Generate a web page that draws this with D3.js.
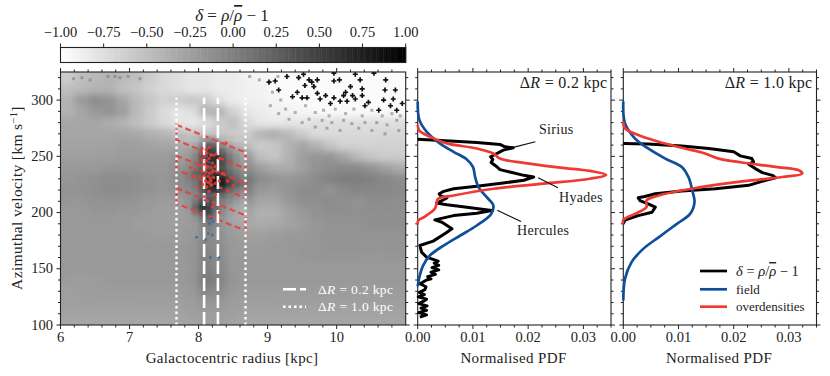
<!DOCTYPE html>
<html>
<head>
<meta charset="utf-8">
<script src="https://cdn.jsdelivr.net/npm/d3@7"></script>
<style>
html, body { margin: 0; padding: 0; background: #fff; }
text { font-family: "Liberation Serif", serif; fill: #222; }
.tick_label { font-size: 14.5px; }
.axis_label { font-size: 15px; letter-spacing: 0.35px; }
.note { font-size: 14px; letter-spacing: 0.3px; }
.panel_note { font-size: 16px; letter-spacing: 0.3px; }
</style>
</head>
<body>
<div id="chart"></div>
<script>
/*
 *  DATA BLOCK STARTS
 */
var cbar_ticks = [-1, -0.75, -0.5, -0.25, 0, 0.25, 0.5, 0.75, 1];

// density map on a coarse grid
var heat_r = [6.1, 6.3, 6.5, 6.7, 6.9, 7.1, 7.3, 7.5, 7.7, 7.9, 8.1, 8.3, 8.5, 8.7, 8.9, 9.1, 9.3, 9.5, 9.7, 9.9, 10.1, 10.3, 10.5, 10.7, 10.9];
var heat_v = [320, 310, 300, 290, 280, 270, 260, 250, 240, 230, 220, 210, 200, 190, 180, 170, 160, 150, 140, 130, 120, 110, 100];
var heat_delta = [
  [-.6,-.5,-.45,-.4,-.45,-.5,-.6,-.7,-.75,-.8,-.8,-.85,-.85,-.9,-.92,-.95,-.97,-.97,-.97,-.97,-.97,-.97,-.97,-.97,-.97],
  [-.5,-.45,-.4,-.4,-.5,-.55,-.65,-.7,-.75,-.8,-.8,-.85,-.85,-.88,-.9,-.95,-.97,-.97,-.97,-.97,-.97,-.97,-.97,-.97,-.97],
  [-.4,-.2,-.1,-.15,-.3,-.45,-.55,-.65,-.6,-.55,-.6,-.75,-.85,-.88,-.9,-.92,-.95,-.97,-.97,-.97,-.97,-.97,-.97,-.97,-.97],
  [-.4,-.3,-.2,-.15,-.25,-.45,-.6,-.72,-.8,-.75,-.4,-.4,-.65,-.8,-.85,-.88,-.9,-.92,-.95,-.95,-.95,-.95,-.95,-.95,-.95],
  [-.3,-.3,-.3,-.35,-.4,-.5,-.6,-.7,-.78,-.82,-.75,-.6,-.5,-.7,-.8,-.82,-.8,-.8,-.75,-.75,-.75,-.75,-.75,-.75,-.75],
  [-.3,-.3,-.3,-.3,-.3,-.32,-.38,-.42,-.5,-.55,-.55,-.55,-.6,-.6,-.4,-.35,-.45,-.6,-.72,-.72,-.7,-.7,-.7,-.68,-.68],
  [-.28,-.28,-.28,-.28,-.25,-.25,-.28,-.3,-.3,-.1,.15,0,-.25,-.5,-.6,-.55,-.4,-.3,-.4,-.55,-.65,-.65,-.65,-.65,-.65],
  [-.25,-.25,-.25,-.25,-.22,-.22,-.22,-.22,-.18,.1,.55,.45,.1,-.2,-.5,-.55,-.4,-.25,-.18,-.18,-.3,-.45,-.55,-.6,-.6],
  [-.2,-.2,-.2,-.18,-.18,-.18,-.2,-.2,-.12,.05,.35,.35,.1,-.1,-.25,-.35,-.35,-.25,-.15,-.1,-.08,-.08,-.15,-.25,-.35],
  [-.18,-.15,-.12,-.1,-.1,-.12,-.15,-.18,-.1,.1,.55,.7,.45,.1,-.08,-.15,-.18,-.15,-.08,-.02,.02,.02,0,-.05,-.1],
  [-.15,-.15,-.12,-.1,-.1,-.12,-.15,-.18,-.15,0,.45,.6,.3,0,-.2,-.22,-.15,-.1,-.1,-.15,-.08,-.05,-.05,-.06,-.08],
  [-.18,-.18,-.15,-.15,-.15,-.18,-.2,-.22,-.22,-.1,.15,.2,.05,-.15,-.3,-.3,-.2,-.12,-.12,-.1,-.12,-.15,-.1,-.1,-.12],
  [-.2,-.2,-.18,-.18,-.2,-.2,-.22,-.25,-.25,-.05,.45,.15,-.1,-.28,-.38,-.38,-.28,-.2,-.15,-.12,-.12,-.12,-.12,-.12,-.12],
  [-.2,-.2,-.2,-.2,-.2,-.22,-.22,-.22,-.25,-.2,0,-.1,-.25,-.32,-.35,-.32,-.28,-.22,-.18,-.15,-.15,-.15,-.12,-.12,-.12],
  [-.2,-.2,-.2,-.2,-.2,-.2,-.22,-.22,-.22,-.2,-.05,-.12,-.22,-.25,-.25,-.22,-.2,-.2,-.18,-.15,-.15,-.15,-.15,-.15,-.15],
  [-.2,-.2,-.2,-.2,-.2,-.2,-.2,-.2,-.2,-.18,-.05,-.1,-.2,-.22,-.22,-.2,-.2,-.18,-.18,-.16,-.16,-.16,-.16,-.16,-.16],
  [-.2,-.2,-.2,-.2,-.2,-.2,-.2,-.2,-.2,-.18,-.02,-.08,-.2,-.2,-.2,-.2,-.2,-.18,-.18,-.18,-.18,-.18,-.18,-.18,-.18],
  [-.2,-.2,-.2,-.2,-.2,-.2,-.2,-.2,-.2,-.18,0,-.05,-.18,-.2,-.2,-.2,-.2,-.2,-.2,-.2,-.2,-.2,-.2,-.2,-.2],
  [-.22,-.22,-.22,-.2,-.2,-.2,-.2,-.2,-.2,-.18,.05,-.02,-.18,-.2,-.2,-.2,-.2,-.2,-.2,-.2,-.2,-.2,-.2,-.2,-.2],
  [-.25,-.22,-.22,-.22,-.22,-.22,-.22,-.22,-.22,-.2,-.05,-.08,-.2,-.22,-.22,-.22,-.22,-.22,-.22,-.22,-.22,-.22,-.22,-.22,-.22],
  [-.25,-.25,-.25,-.25,-.25,-.25,-.25,-.25,-.25,-.22,-.18,-.18,-.22,-.25,-.25,-.25,-.25,-.25,-.25,-.25,-.25,-.25,-.25,-.25,-.25],
  [-.28,-.28,-.28,-.28,-.28,-.28,-.28,-.28,-.28,-.25,-.22,-.22,-.25,-.28,-.28,-.28,-.28,-.28,-.28,-.28,-.28,-.28,-.28,-.28,-.28],
  [-.3,-.3,-.3,-.3,-.3,-.3,-.3,-.3,-.3,-.28,-.25,-.25,-.28,-.3,-.3,-.3,-.3,-.3,-.3,-.3,-.3,-.3,-.3,-.3,-.3]
];

// finer grid laid over the coarse one around the overdensities
var core_r = [7.75, 7.85, 7.95, 8.05, 8.15, 8.25, 8.35, 8.45, 8.55, 8.65];
var core_v = [265, 260, 255, 250, 245, 240, 235, 230, 225, 220, 215, 210, 205, 200, 195, 190, 185];
var core_delta = [
  [-.45,-.5,-.45,-.3,-.15,-.25,-.45,-.5,-.55,-.55],
  [-.35,-.35,-.3,-.05,.25,.2,-.1,-.3,-.4,-.45],
  [-.3,-.25,-.15,.2,.5,.45,.15,-.1,-.25,-.35],
  [-.25,-.2,-.05,.35,.65,.65,.35,.05,-.15,-.3],
  [-.2,-.15,0,.3,.6,.65,.4,.1,-.1,-.25],
  [-.15,-.1,.05,.25,.45,.5,.35,.1,-.05,-.2],
  [-.1,0,.2,.3,.5,.6,.45,.2,.05,-.1],
  [-.1,0,.1,.35,.75,.9,.75,.4,.15,0],
  [-.1,-.05,.05,.35,.8,.9,.75,.45,.25,.1],
  [-.12,-.08,0,.25,.55,.6,.45,.2,.05,-.05],
  [-.18,-.12,-.05,.15,.25,.25,.15,0,-.1,-.2],
  [-.22,-.15,.05,.35,.4,.2,0,-.1,-.2,-.3],
  [-.25,-.15,.2,.55,.5,.15,-.05,-.2,-.3,-.35],
  [-.25,-.2,.05,.4,.45,.1,-.1,-.25,-.32,-.38],
  [-.25,-.22,-.15,.05,.2,.02,-.15,-.28,-.32,-.35],
  [-.25,-.22,-.2,-.05,.05,-.05,-.18,-.25,-.3,-.32],
  [-.22,-.2,-.2,-.08,0,-.08,-.18,-.22,-.25,-.28]
];

// isolated dark pixels in the sparse top right corner
var speck_r = [9.02,9.11,9.28,9.45,9.52,9.60,9.54,9.64,9.72,9.67,9.96,10.04,9.96,10.27,10.34,10.54,10.71,10.20,10.37,10.70,10.85,9.72,9.84,10.13,10.10,10.23,10.37,9.16,9.43,9.36,9.50,9.57,9.76,9.96,9.91,10.05,10.15,10.27,10.46,10.68,10.82,10.95,10.41,10.61,10.78,10.87];
var speck_v = [316,317,321,320,323,318,313,316,318,312,317,318,324,323,318,324,318,312,310,309,309,306,304,307,304,304,304,309,307,303,302,302,301,302,297,299,299,301,298,300,301,297,295,291,295,291];
// paler pixels below them and along the top edge
var soft_r = [9.07,9.19,9.04,9.26,9.40,9.55,9.69,9.81,9.89,9.98,10.13,10.25,10.37,10.51,10.66,10.80,10.92,9.60,9.79,9.93,10.10,10.22,10.41,10.58,10.73,10.87,10.05,10.32,10.51,10.70,10.90,9.86,9.69,9.50,9.31,9.16,6.31,6.69,6.79,6.86,6.98,7.15,6.43,6.19,8.74,8.88,9.03,9.15];
var soft_v = [307,300,295,292,289,295,289,291,286,292,288,292,286,291,286,288,286,283,282,280,282,279,280,280,278,282,273,275,273,270,273,275,276,280,283,288,320,321,321,320,321,319,318,319,321,318,316,321];

var red_r = [8.05,8.11,8.16,8.02,8.08,8.12,8.18,8.25,8.30,8.05,8.11,8.15,8.20,8.02,8.08,8.13,8.18,8.24,7.95,8.05,8.11,8.16,8.20,8.28,8.02,8.08,8.14,8.17,8.22,8.10,8.14,8.18,8.24,8.30,8.06,8.12,8.18,8.36,8.42,8.50,7.88,7.92,8.00,8.15,8.24,8.40,8.08,8.13,8.20,8.30];
var red_v = [257,256,258,252,250,253,251,252,248,247,246,248,244,242,243,241,240,241,238,237,236,235,236,236,232,233,232,230,231,228,227,228,226,228,225,223,224,235,228,224,240,232,222,219,216,262,214,210,205,200];
var blue_r = [8.12,8.15,8.10,8.20,8.15,8.16,8.28,8.09,8.14,8.21,8.18,8.16,8.21,8.14,8.20,7.97,8.10,8.17,8.30];
var blue_v = [250,245,236,232,226,217.6,220,211,206.7,200.7,194.8,190.3,191.8,181.4,180,178,176,160,160];

// stream boxes, one row per box: v at the inner and outer radius, upper and lower edge
var box_r = [7.68, 8.68];
var box_upper_v = [[278, 253.5], [250.5, 226], [221.7, 197.5]];
var box_lower_v = [[264.5, 239], [238, 213], [208, 184]];

var slit_narrow = [8.08, 8.28];
var slit_wide = [7.68, 8.68];
var slit_v = [100, 302];

var p2_black_v = [265.1,263.6,262.4,260.6,258.5,257.6,255.5,251.6,249.6,247.2,244.5,241.2,238.2,236.1,233.1,231.6,228.7,226.3,223.3,221.2,218.8,216.7,214.6,213.1,210.7,208.4,206.9,204.8,201.8,199.4,197.3,193.5,191.4,185.5,182.5,179.6,174.6,170.7,164.8,160.4,156.8,155,153,151,149,147,145,143,141,140,138,136.7,134,131.4,129,127,125,123,121,119,117,115,113,111,109,107];
var p2_black_pdf = [0,.00586,.0107,.0149,.0158,.0173,.0155,.014,.0132,.0136,.0133,.0142,.0149,.0167,.0192,.021,.0192,.0155,.0107,.0065,.0047,.0039,.0042,.0053,.0044,.0034,.0053,.0089,.0134,.0107,.0065,.0031,.0044,.0062,.0053,.0044,.0028,.0004,.0007,.0016,.0037,.003,.0038,.0026,.0038,.0024,.0032,.0018,.0024,.0016,.0009,.0004,.0015,.0013,.0003,.0012,.0001,.0016,.001,.0002,.0017,.0006,.0016,.0002,.0016,.0004];
var p2_blue_v = [298.8,282.4,272,261.5,254,247.2,240.6,231.6,222.7,213.7,206.3,198.8,188.5,179.6,170.7,161.8,153,142.6,134.3];
var p2_blue_pdf = [0,.0003,.0016,.004,.0065,.0089,.01,.0104,.011,.0125,.0137,.0133,.0107,.0077,.0047,.0022,.001,.0003,0];
var p2_red_v = [277.9,272.8,267.5,261.5,257,252.5,248,244.2,240,237,233.7,230.1,225.7,221.2,215.2,212.2,207.8,203.3,196.4,192.9,189.3];
var p2_red_pdf = [0,.0003,.0022,.0053,.0107,.0137,.0149,.0192,.0258,.0312,.0341,.0312,.0228,.0137,.0065,.0037,.0034,.0031,.0013,.0001,0];

var p3_black_v = [261.5,260.9,259.1,257,254,250.4,248,245,243,239.1,235.5,233.1,231,228.7,224.2,221.2,219.1,216.7,214.3,213.1,210.7,207.8,204.8,200.3,197.3,193.4,190];
var p3_black_pdf = [0,.0045,.0106,.0155,.02,.0212,.0233,.0236,.0227,.0239,.0252,.027,.0276,.0258,.0227,.0167,.0106,.0058,.0039,.0027,.003,.0045,.0058,.0052,.0027,.0003,0];
var p3_blue_v = [298.8,279.4,266,257,248,240.6,231.6,219.7,209.3,198.8,189.9,178,167.7,155.9,141,121.8];
var p3_blue_pdf = [0,.0003,.0021,.0045,.0076,.0106,.0118,.0125,.0129,.0121,.0097,.0064,.0036,.0015,.0003,0];
var p3_red_v = [280.9,274.9,268.9,263,257.6,252.5,248,244.5,240.6,237.6,234.7,231.6,226.6,221.2,215.2,210.7,204.8,198.8,193.4,190];
var p3_red_pdf = [0,.0003,.0027,.0064,.0106,.0148,.0173,.0215,.0276,.0318,.0324,.0288,.0197,.0124,.0064,.0042,.0042,.0021,0,0];
/*
 *  DATA BLOCK ENDS
 */

var c_black = "#000000", c_blue = "#0f4f9a", c_red = "#ee3a32";
var c_spine = "#222222";
var curve_width = 2.7;

var svg = d3.select("#chart").append("svg")
    .attr("width", 830)
    .attr("height", 376)
    .style("display", "block");

var defs = svg.append("defs");

var x_map = d3.scaleLinear().domain([6, 11]).range([60.5, 405.7]);
var y_v = d3.scaleLinear().domain([100, 325]).range([325, 72]);
var x_p2 = d3.scaleLinear().domain([0, 0.035]).range([417.7, 611]);
var x_p3 = d3.scaleLinear().domain([0, 0.035]).range([623.3, 816.5]);
var grey = d3.scaleLinear().domain([-1, 1]).range(["#ffffff", "#000000"]).clamp(true);

function draw_frame(x_scale, x_major, x_minor, fmt) {
    var g = svg.append("g");
    var top = y_v.range()[1], bottom = y_v.range()[0];
    var left = x_scale.range()[0], right = x_scale.range()[1];
    function tick_lines(values, size, fn) {
        values.forEach(function(d) { fn(d, size); });
    }
    function x_tick(d, size) {
        g.append("line").attr("x1", x_scale(d)).attr("x2", x_scale(d)).attr("y1", bottom).attr("y2", bottom + size).attr("stroke", c_spine);
        g.append("line").attr("x1", x_scale(d)).attr("x2", x_scale(d)).attr("y1", top).attr("y2", top - size).attr("stroke", c_spine);
    }
    function y_tick(d, size) {
        g.append("line").attr("y1", y_v(d)).attr("y2", y_v(d)).attr("x1", left).attr("x2", left - size).attr("stroke", c_spine);
        g.append("line").attr("y1", y_v(d)).attr("y2", y_v(d)).attr("x1", right).attr("x2", right + size).attr("stroke", c_spine);
    }
    tick_lines(x_major, 4, x_tick);
    tick_lines(x_minor, 2.5, x_tick);
    tick_lines(d3.range(100, 301, 50), 4, y_tick);
    tick_lines(d3.range(110, 325, 10).filter(function(d) { return d % 50 != 0; }), 2.5, y_tick);
    g.append("rect")
        .attr("x", left).attr("y", top)
        .attr("width", right - left).attr("height", bottom - top)
        .attr("fill", "none").attr("stroke", c_spine).attr("stroke-width", 1.1);
    g.selectAll(".x_lab").data(x_major).enter().append("text")
        .attr("class", "tick_label")
        .attr("x", function(d) { return x_scale(d); })
        .attr("y", 342)
        .attr("text-anchor", "middle")
        .text(fmt);
}

/* colour bar */
var cbar_x = d3.scaleLinear().domain([-1, 1]).range([60.5, 405.7]);
svg.append("g").selectAll("rect")
    .data(d3.range(-1, 1, 0.01))
    .enter().append("rect")
    .attr("x", function(d) { return cbar_x(d); })
    .attr("y", 47.5)
    .attr("width", cbar_x(0.01) - cbar_x(0) + 0.5)
    .attr("height", 15)
    .attr("fill", function(d) { return grey(d + 0.005); });
svg.append("rect")
    .attr("x", 60.5).attr("y", 47.5).attr("width", 345.2).attr("height", 15)
    .attr("fill", "none").attr("stroke", c_spine).attr("stroke-width", 1.1);
svg.append("g").selectAll("line")
    .data(cbar_ticks).enter().append("line")
    .attr("x1", function(d) { return cbar_x(d); })
    .attr("x2", function(d) { return cbar_x(d); })
    .attr("y1", 47.5).attr("y2", 43.5)
    .attr("stroke", c_spine);
svg.append("g").selectAll("text")
    .data(cbar_ticks).enter().append("text")
    .attr("class", "tick_label")
    .attr("x", function(d) { return cbar_x(d); })
    .attr("y", 37)
    .attr("text-anchor", "middle")
    .text(function(d) { return d3.format(".2f")(d); });

function delta_label(sel, size) {
    sel.style("font-size", size + "px");
    sel.append("tspan").style("font-style", "italic").text("\u03b4");
    sel.append("tspan").text(" = ");
    sel.append("tspan").style("font-style", "italic").text("\u03c1");
    sel.append("tspan").text("/");
    sel.append("tspan").style("font-style", "italic").style("text-decoration", "overline").text("\u03c1");
    sel.append("tspan").text(" \u2212 1");
}
svg.append("text").attr("x", 232).attr("y", 21).attr("text-anchor", "middle").call(delta_label, 17);

/* density map */
defs.append("clipPath").attr("id", "map_clip").append("rect")
    .attr("x", 60.5).attr("y", 72).attr("width", 345.2).attr("height", 253);
var blur = defs.append("filter").attr("id", "map_blur")
    .attr("filterUnits", "userSpaceOnUse")
    .attr("x", 0).attr("y", 0).attr("width", 830).attr("height", 376);
blur.append("feGaussianBlur").attr("stdDeviation", 3.5);
var blur_core = defs.append("filter").attr("id", "core_blur")
    .attr("filterUnits", "userSpaceOnUse")
    .attr("x", 0).attr("y", 0).attr("width", 830).attr("height", 376);
blur_core.append("feGaussianBlur").attr("stdDeviation", 1.8);

var map_g = svg.append("g").attr("clip-path", "url(#map_clip)");
var cells_g = map_g.append("g").attr("filter", "url(#map_blur)");
heat_delta.forEach(function(row, i) {
    row.forEach(function(d, j) {
        // edge cells run on past the frame so that the blur stays clean
        var x0 = x_map(heat_r[j] - 0.1) - (j == 0 ? 25 : 0);
        var x1 = x_map(heat_r[j] + 0.1) + (j == heat_r.length - 1 ? 25 : 0);
        var y0 = y_v(heat_v[i] + 5) - (i == 0 ? 25 : 0);
        var y1 = y_v(heat_v[i] - 5) + (i == heat_v.length - 1 ? 25 : 0);
        cells_g.append("rect")
            .attr("x", x0).attr("y", y0)
            .attr("width", x1 - x0 + 0.5).attr("height", y1 - y0 + 0.5)
            .attr("fill", grey(d));
    });
});
var core_g = map_g.append("g").attr("filter", "url(#core_blur)");
core_delta.forEach(function(row, i) {
    row.forEach(function(d, j) {
        core_g.append("rect")
            .attr("x", x_map(core_r[j] - 0.05)).attr("y", y_v(core_v[i] + 2.5))
            .attr("width", x_map(0.1) - x_map(0) + 0.5).attr("height", y_v(0) - y_v(5) + 0.5)
            .attr("fill", grey(d));
    });
});

map_g.append("g").selectAll("rect")
    .data(d3.range(soft_r.length)).enter().append("rect")
    .attr("x", function(i) { return x_map(soft_r[i]) - 1.5; })
    .attr("y", function(i) { return y_v(soft_v[i]) - 1.5; })
    .attr("width", 3).attr("height", 3)
    .attr("fill", "#777").attr("fill-opacity", 0.55);

map_g.append("g").selectAll("path")
    .data(d3.range(speck_r.length)).enter().append("path")
    .attr("d", d3.symbol().type(d3.symbolCross).size(14))
    .attr("transform", function(i) { return "translate(" + x_map(speck_r[i]) + "," + y_v(speck_v[i]) + ")"; })
    .attr("fill", "#111");

/* slits and stream boxes */
var box_g = map_g.append("g");
box_upper_v.forEach(function(upper, i) {
    var lower = box_lower_v[i];
    var corners = [[box_r[0], upper[0]], [box_r[1], upper[1]], [box_r[1], lower[1]], [box_r[0], lower[0]]];
    box_g.append("path")
        .attr("d", d3.line().x(function(d) { return x_map(d[0]); }).y(function(d) { return y_v(d[1]); })(corners) + "Z")
        .attr("fill", "none")
        .attr("stroke", "#ea3c3c")
        .attr("stroke-opacity", 0.85)
        .attr("stroke-width", 2.2)
        .attr("stroke-dasharray", "6,3.5");
});

map_g.append("g").selectAll("line")
    .data(slit_narrow).enter().append("line")
    .attr("x1", function(d) { return x_map(d); })
    .attr("x2", function(d) { return x_map(d); })
    .attr("y1", y_v(slit_v[0]))
    .attr("y2", y_v(slit_v[1]))
    .attr("stroke", "#fff").attr("stroke-width", 2.6)
    .attr("stroke-dasharray", "13,4");
map_g.append("g").selectAll("line")
    .data(slit_wide).enter().append("line")
    .attr("x1", function(d) { return x_map(d); })
    .attr("x2", function(d) { return x_map(d); })
    .attr("y1", y_v(slit_v[0]))
    .attr("y2", y_v(slit_v[1]))
    .attr("stroke", "#fff").attr("stroke-width", 2.4)
    .attr("stroke-dasharray", "2.5,3");

map_g.append("g").selectAll("circle")
    .data(d3.range(blue_r.length)).enter().append("circle")
    .attr("cx", function(i) { return x_map(blue_r[i]); })
    .attr("cy", function(i) { return y_v(blue_v[i]); })
    .attr("r", 1.3).attr("fill", "#2a66ae").attr("fill-opacity", 0.85);
map_g.append("g").selectAll("circle")
    .data(d3.range(red_r.length)).enter().append("circle")
    .attr("cx", function(i) { return x_map(red_r[i]); })
    .attr("cy", function(i) { return y_v(red_v[i]); })
    .attr("r", 1.7).attr("fill", "#ee3a32").attr("fill-opacity", 0.85);

/* frames */
draw_frame(x_map, [6, 7, 8, 9, 10], d3.range(6, 11.01, 0.2).filter(function(d) { return Math.abs(d - Math.round(d)) > 0.01; }), function(d) { return d; });
var pdf_major = [0, 0.01, 0.02, 0.03];
var pdf_minor = [0.0025, 0.005, 0.0075, 0.0125, 0.015, 0.0175, 0.0225, 0.025, 0.0275, 0.0325, 0.035];
draw_frame(x_p2, pdf_major, pdf_minor, d3.format(".2f"));
draw_frame(x_p3, pdf_major, pdf_minor, d3.format(".2f"));

svg.append("g").selectAll("text")
    .data([100, 150, 200, 250, 300]).enter().append("text")
    .attr("class", "tick_label")
    .attr("x", 53).attr("y", function(d) { return y_v(d) + 4.5; })
    .attr("text-anchor", "end")
    .text(function(d) { return d; });

svg.append("text").attr("class", "axis_label")
    .attr("x", 232).attr("y", 363).attr("text-anchor", "middle")
    .text("Galactocentric radius [kpc]");
svg.append("text").attr("class", "axis_label")
    .attr("x", 513.5).attr("y", 363).attr("text-anchor", "middle")
    .text("Normalised PDF");
svg.append("text").attr("class", "axis_label")
    .attr("x", 719).attr("y", 363).attr("text-anchor", "middle")
    .text("Normalised PDF");

var y_title = svg.append("text").attr("class", "axis_label")
    .attr("transform", "translate(22,198)rotate(-90)")
    .attr("text-anchor", "middle")
    .style("font-size", "15.5px")
    .text("Azimuthal velocity [km s");
y_title.append("tspan").attr("dy", -5).style("font-size", "10.5px").text("\u22121");
y_title.append("tspan").attr("dy", 5).text("]");

/* PDF panels */
function draw_curve(x_scale, vs, pdfs, colour, width, curve) {
    var line = d3.line()
        .x(function(i) { return x_scale(pdfs[i]); })
        .y(function(i) { return y_v(vs[i]); })
        .curve(curve);
    svg.append("path")
        .attr("d", line(d3.range(vs.length)))
        .attr("fill", "none")
        .attr("stroke", colour)
        .attr("stroke-width", width)
        .attr("stroke-linejoin", "round");
}
draw_curve(x_p2, p2_black_v, p2_black_pdf, c_black, curve_width + 0.3, d3.curveLinear);
draw_curve(x_p2, p2_blue_v, p2_blue_pdf, c_blue, curve_width, d3.curveCatmullRom);
draw_curve(x_p2, p2_red_v, p2_red_pdf, c_red, curve_width, d3.curveCatmullRom);
draw_curve(x_p3, p3_black_v, p3_black_pdf, c_black, curve_width + 0.3, d3.curveLinear);
draw_curve(x_p3, p3_blue_v, p3_blue_pdf, c_blue, curve_width, d3.curveCatmullRom);
draw_curve(x_p3, p3_red_v, p3_red_pdf, c_red, curve_width, d3.curveCatmullRom);

function width_label(sel, colour, label) {
    sel.append("tspan").text("\u0394");
    sel.append("tspan").style("font-style", "italic").text("R");
    sel.append("tspan").text(" = " + label + " kpc");
    if (colour) { sel.selectAll("tspan").style("fill", colour); }
}
svg.append("text").attr("class", "panel_note").attr("x", 607.5).attr("y", 88).attr("text-anchor", "end").call(width_label, null, "0.2");
svg.append("text").attr("class", "panel_note").attr("x", 812.5).attr("y", 88).attr("text-anchor", "end").call(width_label, null, "1.0");

/* stream names */
var stream_names = ["Sirius", "Hyades", "Hercules"];
var stream_text_x = [539, 559, 517];
var stream_text_y = [134, 202, 235];
var stream_tip_pdf = [0.0173, 0.0218, 0.0144];
var stream_tip_v = [258, 231, 202];
var stream_tail_pdf = [0.0213, 0.0254, 0.0187];
var stream_tail_v = [263, 222, 192];
stream_names.forEach(function(d, i) {
    svg.append("text").attr("class", "note")
        .attr("x", stream_text_x[i]).attr("y", stream_text_y[i])
        .text(d);
    svg.append("line")
        .attr("x1", x_p2(stream_tip_pdf[i])).attr("y1", y_v(stream_tip_v[i]))
        .attr("x2", x_p2(stream_tail_pdf[i])).attr("y2", y_v(stream_tail_v[i]))
        .attr("stroke", "#111").attr("stroke-width", 1.2);
});

/* legends */
var leg_map = svg.append("g");
[["13,4", 2.6, "0.2", 289.3], ["2.5,3", 2.4, "1.0", 306.7]].forEach(function(d) {
    leg_map.append("line")
        .attr("x1", 283).attr("x2", 306).attr("y1", d[3]).attr("y2", d[3])
        .attr("stroke", "#fff").attr("stroke-width", d[1]).attr("stroke-dasharray", d[0]);
    leg_map.append("text")
        .attr("x", 318).attr("y", d[3] + 4.5)
        .style("font-size", "13.5px").style("letter-spacing", "0.35px")
        .call(width_label, "#fff", d[2]);
});

var leg_pdf = svg.append("g");
[[c_black, 271], [c_blue, 289.3], [c_red, 306.7]].forEach(function(d) {
    leg_pdf.append("line")
        .attr("x1", 700).attr("x2", 727).attr("y1", d[1]).attr("y2", d[1])
        .attr("stroke", d[0]).attr("stroke-width", curve_width);
});
leg_pdf.append("text").attr("x", 736).attr("y", 276).call(delta_label, 14.5);
leg_pdf.append("text").attr("x", 736).attr("y", 294).style("font-size", "13px").text("field");
leg_pdf.append("text").attr("x", 736).attr("y", 311).style("font-size", "13px").text("overdensities");
</script>
</body>
</html>
